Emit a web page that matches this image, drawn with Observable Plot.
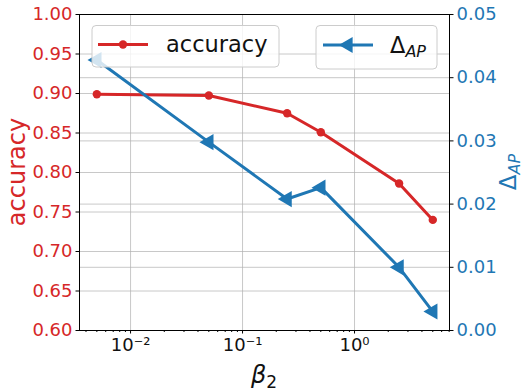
<!DOCTYPE html>
<html>
<head>
<meta charset="utf-8">
<script src="https://cdn.jsdelivr.net/npm/d3@7"></script>
<script src="https://cdn.jsdelivr.net/npm/@observablehq/plot@0.6"></script>
<style>
  body { margin: 0; background: white; }
  #chart { position: relative; width: 523px; height: 391px; }
</style>
</head>
<body>
<div id="chart"></div>
<script>
const beta = [0.005, 0.05, 0.25, 0.5, 2.5, 5];
const accuracy = [0.899, 0.8975, 0.875, 0.851, 0.786, 0.740];
const deltaAP = [0.0428, 0.0298, 0.0208, 0.0226, 0.0100, 0.0030];
const accTicks = [0.60, 0.65, 0.70, 0.75, 0.80, 0.85, 0.90, 0.95, 1.00];
const apTicks = [0.00, 0.01, 0.02, 0.03, 0.04, 0.05];
const xTicks = [0.01, 0.1, 1];
const xTickLabels = ["10⁻²", "10⁻¹", "10⁰"];
const xMinor = [0.004,0.005,0.006,0.007,0.008,0.009,0.02,0.03,0.04,0.05,0.06,0.07,0.08,0.09,0.2,0.3,0.4,0.5,0.6,0.7,0.8,0.9,2,3,4,5,6,7];

const RED = "#d62728", BLUE = "#1f77b4";
// map ΔAP (0..0.05) onto the accuracy axis (0.6..1.0)
const toAcc = d => 0.6 + d * 8;
const fromAcc = a => (a - 0.6) / 8;

const data = beta.map((b, i) => ({beta: b, acc: accuracy[i], ap: deltaAP[i]}));
const xLabelOf = d => xTickLabels[xTicks.findIndex(t => Math.abs(t - d) < 1e-9)];

const plot = Plot.plot({
  width: 523, height: 391,
  marginLeft: 79, marginRight: 74, marginTop: 14, marginBottom: 61,
  style: {fontFamily: "DejaVu Sans", fontSize: "18px", background: "white", overflow: "visible"},
  x: {type: "log", domain: [0.0035, 7.05]},
  y: {domain: [0.6, 1.0]},
  marks: [
    Plot.gridY(accTicks, {stroke: "#b0b0b0", strokeOpacity: 0.7, strokeWidth: 1}),
    Plot.gridY(apTicks.map(toAcc), {stroke: "#b0b0b0", strokeOpacity: 0.7, strokeWidth: 1}),
    Plot.gridX(xTicks, {stroke: "#b0b0b0", strokeOpacity: 0.7, strokeWidth: 1}),
    Plot.line(data, {x: "beta", y: "acc", stroke: RED, strokeWidth: 3}),
    Plot.dot(data, {x: "beta", y: "acc", fill: RED, r: 4.2, stroke: "none"}),
    Plot.line(data, {x: "beta", y: d => toAcc(d.ap), stroke: BLUE, strokeWidth: 3}),
    Plot.dot(data, {x: "beta", y: d => toAcc(d.ap), fill: BLUE, stroke: "none", symbol: "triangle", rotate: -90, r: 6}),
    Plot.frame({stroke: "black", strokeWidth: 1}),
    Plot.axisY(accTicks, {anchor: "left", tickSize: 3.5, tickPadding: 3.5, stroke: "black", fill: RED,
      tickFormat: d => d.toFixed(2), label: null, fontSize: 18}),
    Plot.axisY(apTicks.map(toAcc), {anchor: "right", tickSize: 3.5, tickPadding: 3.5, stroke: "black", fill: BLUE,
      tickFormat: d => fromAcc(d).toFixed(2), label: null, fontSize: 18}),
    Plot.axisX(xMinor, {anchor: "bottom", tickSize: 2, tickFormat: () => "", label: null, stroke: "black"}),
    Plot.axisX(xTicks, {anchor: "bottom", tickSize: 3.5, tickPadding: 4, stroke: "black", fill: "#111",
      tickFormat: xLabelOf, label: null, fontSize: 18})
  ]
});

document.getElementById("chart").appendChild(plot);

const svg = d3.select(plot);
// axis labels
svg.append("text").attr("transform", "translate(25,172) rotate(-90)")
  .attr("text-anchor", "middle").attr("font-size", 24).attr("fill", RED)
  .attr("font-family", "DejaVu Sans").text("accuracy");
const ry = svg.append("text").attr("transform", "translate(516,172) rotate(-90)")
  .attr("text-anchor", "middle").attr("font-size", 23).attr("fill", BLUE)
  .attr("font-family", "DejaVu Sans");
ry.append("tspan").text("Δ");
ry.append("tspan").attr("font-size", 16).attr("font-style", "italic").attr("dy", 4).text("AP");
const xl = svg.append("text").attr("x", 264).attr("y", 383)
  .attr("text-anchor", "middle").attr("font-size", 24).attr("fill", "#111")
  .attr("font-family", "DejaVu Sans");
xl.append("tspan").attr("font-style", "italic").text("β");
xl.append("tspan").attr("font-size", 17).attr("dy", 5).text("2");

// legends
function legendBox(x, y, w, h) {
  svg.append("rect").attr("x", x).attr("y", y).attr("width", w).attr("height", h)
    .attr("rx", 4).attr("fill", "white").attr("fill-opacity", 0.8)
    .attr("stroke", "#cccccc").attr("stroke-width", 1);
}
legendBox(92, 25.5, 187, 41.5);
svg.append("line").attr("x1", 98).attr("x2", 148).attr("y1", 44.5).attr("y2", 44.5)
  .attr("stroke", RED).attr("stroke-width", 3);
svg.append("circle").attr("cx", 123).attr("cy", 44.5).attr("r", 4.2).attr("fill", RED);
svg.append("text").attr("x", 166).attr("y", 52).attr("font-size", 22.5).attr("text-anchor", "start")
  .attr("font-family", "DejaVu Sans").attr("fill", "#111").text("accuracy");

legendBox(316, 25.5, 121, 43.5);
svg.append("line").attr("x1", 323).attr("x2", 373).attr("y1", 45).attr("y2", 45)
  .attr("stroke", BLUE).attr("stroke-width", 3);
svg.append("path").attr("d", d3.symbol(d3.symbolTriangle, 110)())
  .attr("transform", "translate(348,45) rotate(-90)").attr("fill", BLUE);
const lt = svg.append("text").attr("x", 390).attr("y", 53).attr("font-size", 22.5).attr("text-anchor", "start")
  .attr("font-family", "DejaVu Sans").attr("fill", "#111");
lt.append("tspan").text("Δ");
lt.append("tspan").attr("font-size", 16).attr("font-style", "italic").attr("dy", 4).text("AP");
</script>
</body>
</html>
